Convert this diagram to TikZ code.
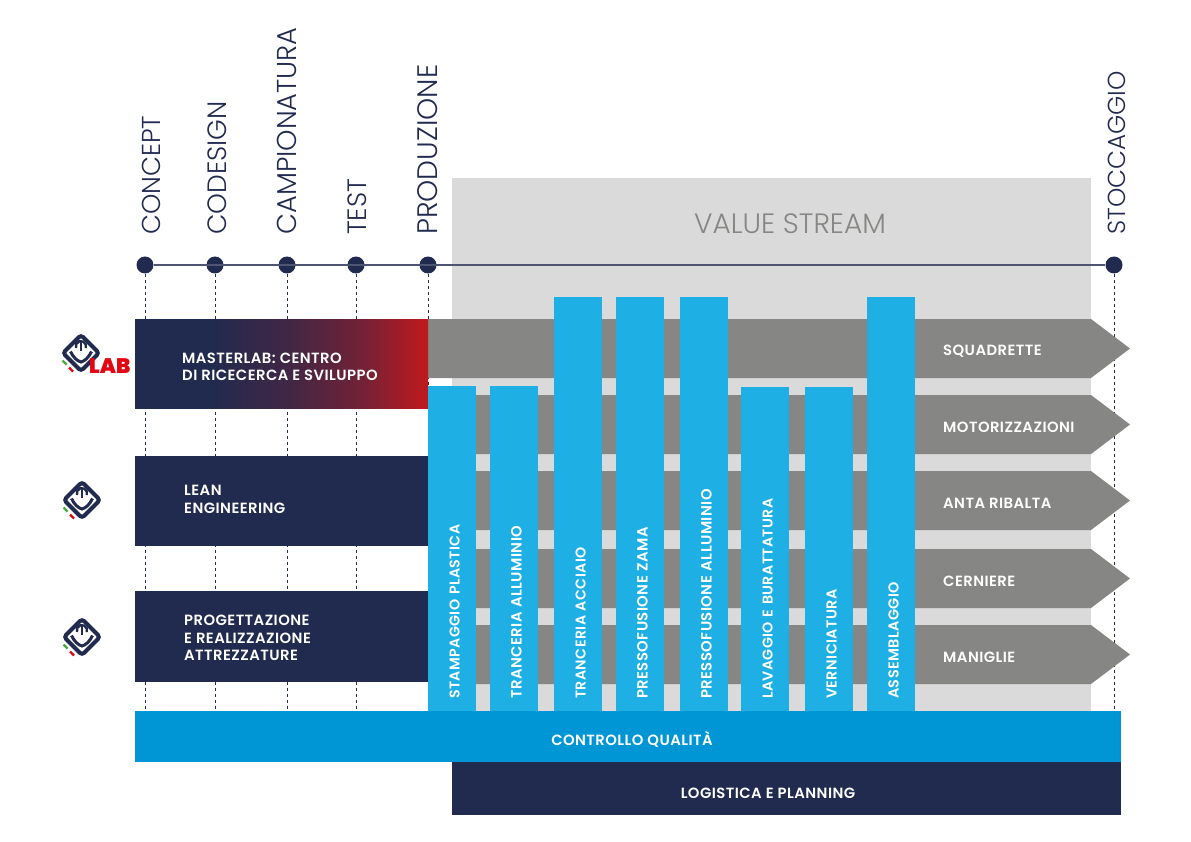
\documentclass[tikz,border=0pt]{standalone}
\usepackage{fontspec}
\setmainfont{Poppins}
\newfontfamily\lightfont{Poppins Light}
\newfontfamily\mediumfont[LetterSpace=3]{Poppins SemiBold}
\newfontfamily\heavyfont{Poppins Black}
\usepackage{xcolor}
\usetikzlibrary{positioning,calc}
\definecolor{navy}{HTML}{212A4F}
\definecolor{flowgrey}{HTML}{868684}
\definecolor{valuegrey}{HTML}{DADADA}
\definecolor{barblue}{HTML}{1EB0E4}
\definecolor{qualblue}{HTML}{0095D5}
\definecolor{labred}{HTML}{C1191D}
\definecolor{logored}{HTML}{E30613}
\definecolor{logogreen}{HTML}{4CA73C}
\pgfdeclarehorizontalshading{labfade}{100bp}{color(0bp)=(navy); color(38bp)=(navy); color(52bp)=(navy!78!labred); color(64bp)=(navy!48!labred); color(75bp)=(labred); color(100bp)=(labred)}
\newcommand{\fsize}[1]{\fontsize{#1}{#1}\selectfont}
\newcommand{\flowarrow}[3]{%
  \fill[flowgrey] (428,#2) -- (1091,#2) -- (1130,#2+29.5) -- (1091,#2+59) -- (428,#2+59) -- cycle;
  \node[rowlabel] (#1) at (943,#2+32) {#3};}
\newcommand{\logomark}[2]{%
  \begin{scope}[shift={(#1,#2)}]
    \draw[navy, line width=4pt, rounded corners=3pt, fill=white] (0,-18) -- (18,0) -- (0,18) -- (-18,0) -- cycle;
    \draw[navy, line width=3pt] (-10.5,-1.5) .. controls (-8,4) and (-4,8) .. (0,9) .. controls (4,8) and (8,4) .. (10.5,-1.5);
    \draw[navy, line width=2.4pt] (-5,-5) arc[start angle=200, end angle=-20, x radius=5.2, y radius=-5.2];
    \draw[navy, line width=2.4pt] (0,-11) -- (0,-2);
    \draw[logogreen, line width=2.4pt] (-18.5,7.5) -- (-14.5,11.5);
    \draw[logored, line width=2.4pt] (-12,14.5) -- (-8,18.5);
  \end{scope}}

\begin{document}
\begin{tikzpicture}[
  x=1pt, y=-1pt,
  font=\mediumfont\fsize{14.8},
  stage/.style={font=\lightfont\fsize{#1}, text=navy, rotate=90, anchor=base west, inner sep=0pt},
  stage/.default=26.5,
  dot/.style={circle, fill=navy, minimum size=17pt, inner sep=0pt},
  drop/.style={navy, line width=1pt, dash pattern=on 3pt off 3pt},
  bar/.style={fill=barblue, text=white, font=\mediumfont\fsize{14.2}, rotate=90, anchor=west, minimum height=48.5pt, inner xsep=12pt, inner ysep=0pt, align=left, text height=15pt, text depth=0pt, text width=#1pt-24pt},
  navybox/.style={fill=navy, anchor=north west, minimum width=293pt, minimum height=#1pt, inner sep=0pt},
  boxlabel/.style={text=white, anchor=west, align=left, inner sep=0pt},
  rowlabel/.style={text=white, font=\mediumfont\fsize{14.8}, anchor=west, inner sep=0pt},
  band/.style={anchor=north west, inner sep=0pt}]
\useasboundingbox (0,0) rectangle (1191,842);
% value stream background
\node[fill=valuegrey, anchor=north west, minimum width=639.5pt, minimum height=533pt, inner sep=0pt] (valuestream) at (451.5,178) {};
\node[font=\lightfont\fsize{28}, text=flowgrey, inner sep=0pt] (valuetitle) at (790,224) {VALUE STREAM};
% timeline
\node[dot] (concept) at (145,265) {};
\node[dot] (codesign) at (215,265) {};
\node[dot] (campionatura) at (287,265) {};
\node[dot] (test) at (356,265) {};
\node[dot] (produzione) at (428,265) {};
\node[dot] (stoccaggio) at (1114,265) {};
\draw[navy!80, line width=1.3pt] (concept) -- (stoccaggio);
\coordinate (endconcept) at (145,711);
\coordinate (endcodesign) at (215,711);
\coordinate (endcampionatura) at (287,711);
\coordinate (endtest) at (356,711);
\coordinate (endproduzione) at (428,711);
\coordinate (endstoccaggio) at (1114,711);
\draw[drop] (concept) -- (endconcept);
\draw[drop] (codesign) -- (endcodesign);
\draw[drop] (campionatura) -- (endcampionatura);
\draw[drop] (test) -- (endtest);
\draw[drop] (produzione) -- (endproduzione);
\draw[drop] (stoccaggio) -- (endstoccaggio);
\node[stage=25.9] (lconcept) at (160,235) {CONCEPT};
\node[stage] (lcodesign) at (226,235) {CODESIGN};
\node[stage=27.3] (lcampionatura) at (296.5,235) {CAMPIONATURA};
\node[stage] (ltest) at (366,235) {TEST};
\node[stage=28.2] (lproduzione) at (437.5,235) {PRODUZIONE};
\node[stage=24.6] (lstoccaggio) at (1125,235) {STOCCAGGIO};
% flows
\flowarrow{squadrette}{319}{SQUADRETTE}
\flowarrow{motorizzazioni}{395}{MOTORIZZAZIONI}
\flowarrow{anta}{471}{ANTA RIBALTA}
\flowarrow{cerniere}{549}{CERNIERE}
\flowarrow{maniglie}{625}{MANIGLIE}
% left boxes
\node[navybox=89, shading=labfade] (masterlab) at (135,319) {};
\node[navybox=90] (lean) at (135,456) {};
\node[navybox=91] (progettazione) at (135,591) {};
\node[boxlabel] (lmasterlab) at (182,367) {MASTERLAB: CENTRO\\[2pt]DI RICECERCA E SVILUPPO};
\node[boxlabel] (llean) at (184,499) {LEAN\\[3pt]ENGINEERING};
\node[boxlabel] (lprogettazione) at (184,638) {PROGETTAZIONE\\[2.5pt]E REALIZZAZIONE\\[2.5pt]ATTREZZATURE};
% departments
\node[bar=325] (plastica) at (452,711) {STAMPAGGIO PLASTICA};
\node[bar=325] (tralluminio) at (514,711) {\fsize{14.8}TRANCERIA ALLUMINIO};
\node[bar=414] (acciaio) at (578,711) {TRANCERIA ACCIAIO};
\node[bar=414] (zama) at (640,711) {\fsize{14.8}PRESSOFUSIONE ZAMA};
\node[bar=414] (pralluminio) at (704,711) {\fsize{14.8}PRESSOFUSIONE ALLUMINIO};
\node[bar=324] (lavaggio) at (765,711) {LAVAGGIO E BURATTATURA};
\node[bar=324] (verniciatura) at (829,711) {\fsize{14.4}VERNICIATURA};
\node[bar=414] (assemblaggio) at (891,711) {\fsize{14.4}ASSEMBLAGGIO};
% bottom bands
\node[band, fill=qualblue, minimum width=986pt, minimum height=51pt] (qualita) at (135,711) {};
\node[text=white, inner sep=0pt] (lqualita) at (632,739) {CONTROLLO QUALITÀ};
\node[band, fill=navy, minimum width=669.5pt, minimum height=53pt] (logistica) at (451.5,762) {};
\node[text=white, inner sep=0pt] (llogistica) at (768,793) {LOGISTICA E PLANNING};
% logos
\logomark{81}{353}
\node[text=logored, font=\heavyfont\fsize{21}, anchor=base west, inner sep=0pt] (lab) at (89,373) {LAB};
\logomark{82}{500}
\logomark{82}{637}
\end{tikzpicture}
\end{document}
